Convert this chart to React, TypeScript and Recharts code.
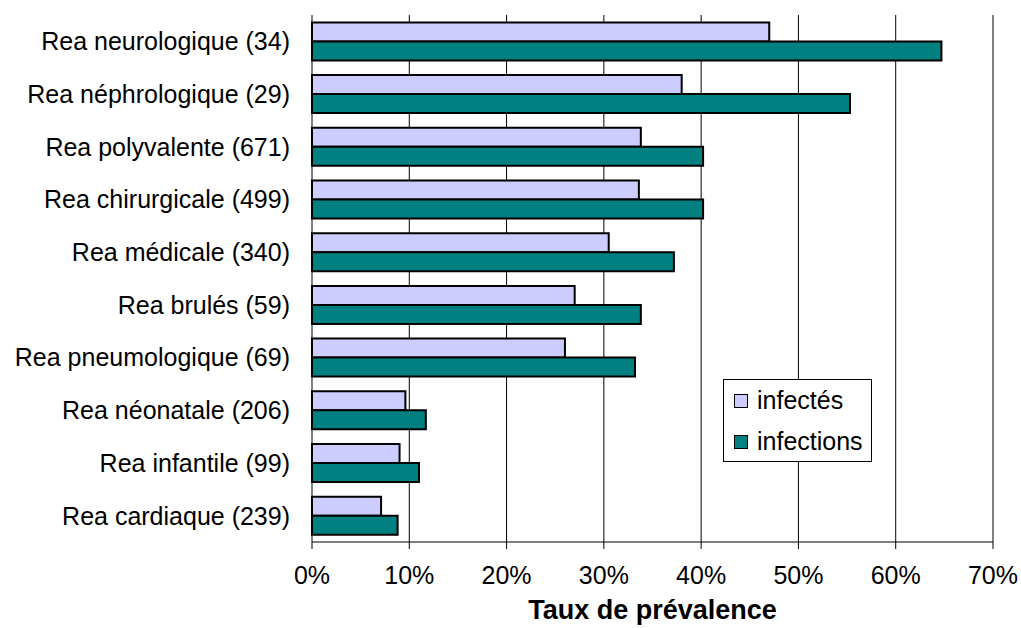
import { Bar, BarChart, CartesianGrid, ReferenceLine, XAxis, YAxis } from "recharts";

const categories = [
  "Rea neurologique (34)",
  "Rea néphrologique (29)",
  "Rea polyvalente (671)",
  "Rea chirurgicale (499)",
  "Rea médicale (340)",
  "Rea brulés (59)",
  "Rea pneumologique (69)",
  "Rea néonatale (206)",
  "Rea infantile (99)",
  "Rea cardiaque (239)",
];
const infectes = [47.0, 38.0, 33.8, 33.6, 30.5, 27.0, 26.0, 9.6, 9.0, 7.1];
const infections = [64.7, 55.3, 40.2, 40.2, 37.2, 33.8, 33.2, 11.7, 11.0, 8.8];
const xTicks = [0, 10, 20, 30, 40, 50, 60, 70];
const bandTicks = [0, 1, 2, 3, 4, 5, 6, 7, 8, 9, 10];

const FONT = "'Liberation Sans', Arial, sans-serif";

const data = categories.map((name, i) => ({ name, infectes: infectes[i], infections: infections[i] }));

const legendItems = [
  { label: "infectés", color: "#CCCCFF" },
  { label: "infections", color: "#008080" },
];

// legend sits inside the plot, so it is drawn outside recharts' layout
function LegendBox() {
  return (
    <div
      style={{
        position: "absolute",
        left: 723,
        top: 379,
        width: 147,
        height: 81,
        border: "1px solid #000",
        background: "#fff",
        fontFamily: FONT,
        fontSize: 25,
        color: "#000",
      }}
    >
      {legendItems.map((it) => (
        <div key={it.label} style={{ display: "flex", alignItems: "center", height: 41, paddingLeft: 10 }}>
          <span
            style={{
              display: "inline-block",
              width: 12,
              height: 12,
              background: it.color,
              border: "1px solid #000",
              marginRight: 9,
            }}
          />
          <span>{it.label}</span>
        </div>
      ))}
    </div>
  );
}

export default function App() {
  return (
    <div style={{ position: "absolute", left: 0, top: 0, width: 1021, height: 628, background: "#fff" }}>
      <BarChart
        width={1021}
        height={628}
        data={data}
        layout="vertical"
        margin={{ top: 15, right: 28, left: 0, bottom: 0 }}
        barCategoryGap="14%"
        barGap={0}
        style={{ fontFamily: FONT }}
      >
        <CartesianGrid horizontal={false} stroke="#000" strokeWidth={1} />
        <XAxis
          type="number"
          domain={[0, 70]}
          ticks={xTicks}
          tickFormatter={(v) => `${v}%`}
          interval={0}
          height={86}
          tickSize={7}
          tickMargin={17}
          axisLine={{ stroke: "#000" }}
          tickLine={{ stroke: "#000" }}
          tick={{ fill: "#000", fontSize: 25, fontFamily: FONT }}
          label={{
            value: "Taux de prévalence",
            position: "insideBottom",
            offset: 9,
            fill: "#000",
            fontSize: 27,
            fontWeight: "bold",
            fontFamily: FONT,
          }}
        />
        <YAxis
          yAxisId="band"
          type="number"
          domain={[0, 10]}
          ticks={bandTicks}
          interval={0}
          width={0}
          tickSize={7}
          tickFormatter={() => ""}
          axisLine={{ stroke: "#000" }}
          tickLine={{ stroke: "#000" }}
        />
        <YAxis
          type="category"
          dataKey="name"
          width={312}
          interval={0}
          tickSize={0}
          tickMargin={22}
          axisLine={false}
          tickLine={false}
          tick={{ fill: "#000", fontSize: 25, fontFamily: FONT }}
        />
        <ReferenceLine yAxisId="band" y={10} stroke="#808080" strokeWidth={1.5} />
        <Bar dataKey="infectes" name="infectés" fill="#CCCCFF" stroke="#000" strokeWidth={2} isAnimationActive={false} />
        <Bar dataKey="infections" name="infections" fill="#008080" stroke="#000" strokeWidth={2} isAnimationActive={false} />
      </BarChart>
      <LegendBox />
    </div>
  );
}
